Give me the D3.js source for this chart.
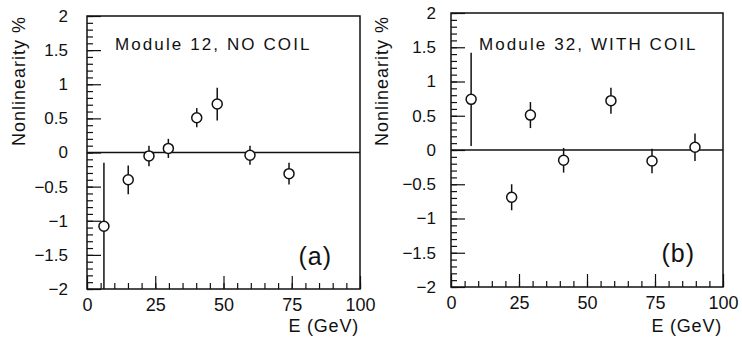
<!DOCTYPE html>
<html>
<head>
<meta charset="utf-8">
<script src="https://cdn.jsdelivr.net/npm/d3@7"></script>
<style>
  html, body { margin: 0; padding: 0; background: #fff; }
  svg { display: block; }
  text { font-family: "Liberation Sans", Arial, sans-serif; fill: #111; }
</style>
</head>
<body>
<svg id="chart" width="742" height="339"></svg>
<script>
// Module 12 (no coil): beam energy (GeV), nonlinearity (%), error (%)
const energyA = [6.2, 15.1, 22.7, 29.8, 40.2, 47.7, 59.7, 74.0];
const nonlinA = [-1.08, -0.40, -0.05, 0.06, 0.51, 0.71, -0.04, -0.31];
const errA    = [0.93, 0.21, 0.15, 0.14, 0.14, 0.24, 0.14, 0.16];

// Module 32 (with coil)
const energyB = [7.4, 22.3, 29.2, 41.4, 58.8, 73.9, 89.7];
const nonlinB = [0.74, -0.69, 0.51, -0.15, 0.72, -0.16, 0.04];
const errB    = [0.68, 0.19, 0.19, 0.18, 0.19, 0.18, 0.20];

const xTicks = [0, 25, 50, 75, 100];
const yTicks = [-2, -1.5, -1, -0.5, 0, 0.5, 1, 1.5, 2];
const xDomain = [0, 100];
const yDomain = [-2, 2];

const svg = d3.select("#chart");

const fmtY = d => (d < 0 ? "\u2212" : "") + Math.abs(d);

function drawPanel(cfg) {
  const { left, right, top, bottom, energy, values, errors, title, tag } = cfg;
  const x = d3.scaleLinear().domain(xDomain).range([left, right]);
  const y = d3.scaleLinear().domain(yDomain).range([bottom, top]);
  const g = svg.append("g");

  // minor ticks
  g.append("g")
    .attr("transform", `translate(${left},0)`)
    .call(d3.axisLeft(y).tickValues(d3.range(-20, 21).map(v => v / 10)).tickSize(-6).tickFormat(""))
    .call(s => s.select(".domain").remove())
    .call(s => s.selectAll("line").attr("stroke", "#111").attr("stroke-width", 1.2));
  g.append("g")
    .attr("transform", `translate(0,${bottom})`)
    .call(d3.axisBottom(x).tickValues(d3.range(0, 101, 5)).tickSize(-6).tickFormat(""))
    .call(s => s.select(".domain").remove())
    .call(s => s.selectAll("line").attr("stroke", "#111").attr("stroke-width", 1.2));

  // major ticks and labels
  g.append("g")
    .attr("transform", `translate(${left},0)`)
    .call(d3.axisLeft(y).tickValues(yTicks).tickSize(-14).tickPadding(cfg.yPad).tickFormat(fmtY))
    .call(s => s.select(".domain").remove())
    .call(s => s.selectAll("line").attr("stroke", "#111").attr("stroke-width", 1.2))
    .call(s => s.selectAll("text").attr("font-size", 17).attr("fill", "#111")
      .style("font-family", '"Liberation Sans", Arial, sans-serif'));
  g.append("g")
    .attr("transform", `translate(0,${bottom})`)
    .call(d3.axisBottom(x).tickValues(xTicks).tickSize(-13).tickPadding(9).tickFormat(d3.format("d")))
    .call(s => s.select(".domain").remove())
    .call(s => s.selectAll("line").attr("stroke", "#111").attr("stroke-width", 1.2))
    .call(s => s.selectAll("text").attr("font-size", 18).attr("fill", "#111")
      .style("font-family", '"Liberation Sans", Arial, sans-serif'));

  // frame
  g.append("rect")
    .attr("x", left).attr("y", top)
    .attr("width", right - left).attr("height", bottom - top)
    .attr("fill", "none").attr("stroke", "#111").attr("stroke-width", 1.5);

  // zero line
  g.append("line")
    .attr("x1", x(xDomain[0])).attr("x2", x(xDomain[1]))
    .attr("y1", y(0)).attr("y2", y(0))
    .attr("stroke", "#111").attr("stroke-width", 1.3);

  // error bars
  const pts = energy.map((e, i) => ({ e, v: values[i], err: errors[i] }));
  const clampY = v => Math.max(yDomain[0], Math.min(yDomain[1], v));
  g.selectAll("line.err").data(pts).join("line")
    .attr("class", "err")
    .attr("x1", d => x(d.e)).attr("x2", d => x(d.e))
    .attr("y1", d => y(clampY(d.v - d.err)))
    .attr("y2", d => y(clampY(d.v + d.err)))
    .attr("stroke", "#111").attr("stroke-width", 1.5);

  // markers
  g.selectAll("circle.pt").data(pts).join("circle")
    .attr("class", "pt")
    .attr("cx", d => x(d.e)).attr("cy", d => y(d.v))
    .attr("r", 5)
    .attr("fill", "#fff").attr("stroke", "#111").attr("stroke-width", 1.5);

  // labels
  g.append("text")
    .attr("x", cfg.titleX).attr("y", 50)
    .attr("font-size", 17).attr("letter-spacing", 2.1)
    .text(title);
  g.append("text")
    .attr("x", right - 28).attr("y", cfg.tagY)
    .attr("text-anchor", "end")
    .attr("font-size", 25).attr("letter-spacing", 1)
    .text(tag);
  g.append("text")
    .attr("x", right - 1).attr("y", 332)
    .attr("text-anchor", "end")
    .attr("font-size", 18).attr("letter-spacing", 0.8)
    .text("E (GeV)");
  g.append("text")
    .attr("transform", `translate(${cfg.yTitleX},81) rotate(-90)`)
    .attr("text-anchor", "middle")
    .attr("font-size", 18).attr("letter-spacing", 1)
    .text("Nonlinearity %");
}

drawPanel({
  left: 87, right: 360, top: 16, bottom: 289,
  energy: energyA, values: nonlinA, errors: errA,
  title: "Module 12, NO COIL", titleX: 115, tag: "(a)", tagY: 265,
  yPad: 19, yTitleX: 25
});

drawPanel({
  left: 451, right: 723, top: 13, bottom: 287,
  energy: energyB, values: nonlinB, errors: errB,
  title: "Module 32, WITH COIL", titleX: 479, tag: "(b)", tagY: 262,
  yPad: 15, yTitleX: 388
});
</script>
</body>
</html>
